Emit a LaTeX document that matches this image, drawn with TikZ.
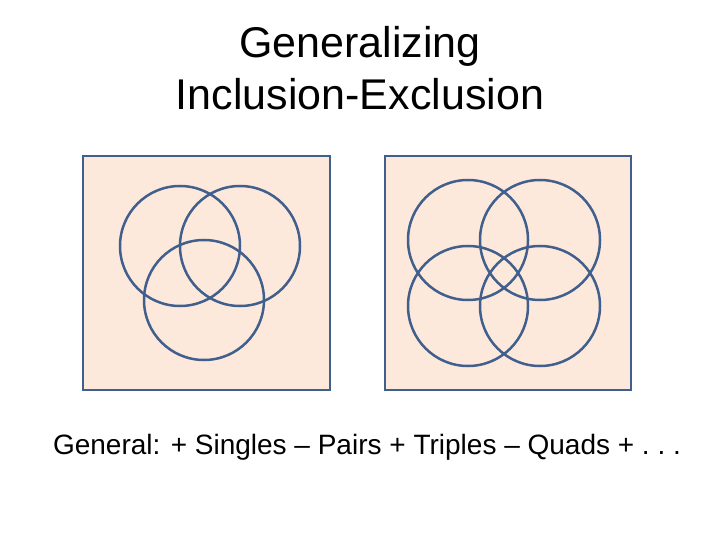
\documentclass[tikz,border=0pt]{standalone}
\usepackage{fontspec}
\setmainfont{Liberation Sans}
\begin{document}
\begin{tikzpicture}[x=1pt,y=-1pt,
  boxst/.style={draw=blu,fill=peach,line width=2.5pt},
  circ/.style={draw=blu,line width=2.5pt}]
\definecolor{blu}{RGB}{65,95,140}
\definecolor{peach}{RGB}{252,233,220}
\useasboundingbox (0,0) rectangle (720,540);
\node (t) at (360,68) [align=center,inner sep=0pt,font=\fontsize{43}{52}\selectfont] {Generalizing\\Inclusion-Exclusion};
\draw[boxst] (83,156) rectangle (330,390);
\draw[boxst] (385,156) rectangle (631,390);
\draw[circ] (180,246) circle (60);
\draw[circ] (240,246) circle (60);
\draw[circ] (204,300) circle (60);
\draw[circ] (468,240) circle (60);
\draw[circ] (540,240) circle (60);
\draw[circ] (468,306) circle (60);
\draw[circ] (540,306) circle (60);
\node (g) at (367,447) [inner sep=0pt,font=\fontsize{28}{32}\selectfont] {General: + Singles -- Pairs + Triples -- Quads + .\ .\ .};
\end{tikzpicture}
\end{document}
